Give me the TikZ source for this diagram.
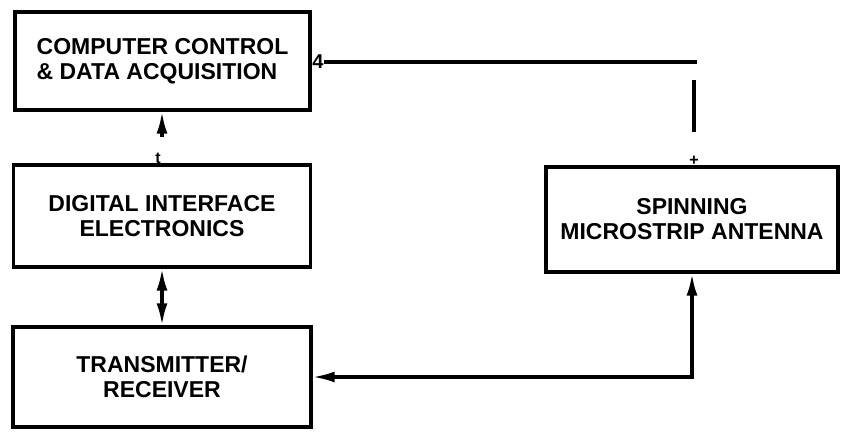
\documentclass[tikz,border=0pt]{standalone}
\usepackage{fontspec}
\setmainfont{Liberation Sans}
\usetikzlibrary{arrows.meta}

\begin{document}
\begin{tikzpicture}[x=1pt, y=-1pt,
    block/.style={draw, line width=3.2pt, inner sep=0pt,
        font=\bfseries\fontsize{23}{25}\selectfont, align=center},
    stray/.style={inner sep=0pt, font=\bfseries\fontsize{16}{16}\selectfont},
    link/.style={line width=3.2pt},
    tip/.style={-{Latex[length=22pt,width=11pt]}},
    tips/.style={{Latex[length=22pt,width=11pt]}-{Latex[length=22pt,width=11pt]}}]
    \useasboundingbox (0,0) rectangle (841,441);

    \node[block, align=left, minimum width=295pt, minimum height=98pt] (comp)
        at (162.5,61) {COMPUTER CONTROL\\\& DATA ACQUISITION};
    \node[block, minimum width=297pt, minimum height=102pt] (die)
        at (162,216) {DIGITAL INTERFACE\\ELECTRONICS};
    \node[block, minimum width=298pt, minimum height=100pt] (trx)
        at (162,377) {TRANSMITTER/\\RECEIVER};
    \node[block, minimum width=292pt, minimum height=105pt] (ant)
        at (692,219.5) {SPINNING\\MICROSTRIP ANTENNA};

    % loose glyphs left on the lines
    \node[stray, font=\bfseries\fontsize{20}{20}\selectfont] (four) at (318,62) {4};
    \node[stray] (tee) at (158,158) {t};
    \node[stray] (plus) at (694,161) {+};

    \coordinate (hr) at (697,62);
    \coordinate (vt) at (694,80);
    \coordinate (vb) at (694,132);
    \coordinate (up) at (162,137);

    \draw[link] (four.east) -- (hr);
    \draw[link] (vt) -- (vb);
    \draw[link, tip] (up) -- (up |- comp.south);
    \draw[link, tips] (die.south) -- (trx.north);
    \draw[link, tips] (ant.south) |- (trx.east);

\end{tikzpicture}
\end{document}
